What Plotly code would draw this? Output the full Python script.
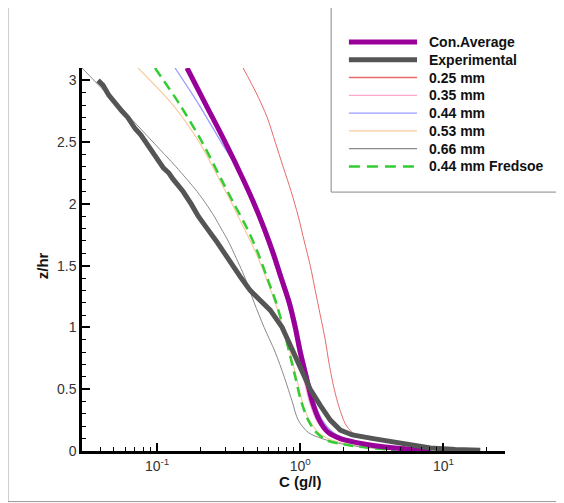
import plotly.graph_objects as go

# ---- data (C in g/l, z/hr) ----
exp_C = [0.0387, 0.042, 0.046, 0.0517, 0.057, 0.0625, 0.0702, 0.077, 0.087, 0.0953, 0.104, 0.111, 0.121,
         0.1294, 0.152, 0.163, 0.173, 0.194, 0.21, 0.224, 0.259, 0.294, 0.340, 0.387, 0.447, 0.53, 0.617,
         0.748, 0.894, 1.033, 1.175, 1.38, 1.621, 1.904, 2.311, 3.238, 4.62, 5.88, 8.11, 12.1, 18.1]
exp_z = [3.00, 2.96, 2.88, 2.80, 2.75, 2.70, 2.61, 2.56, 2.47, 2.40, 2.33, 2.29, 2.25,
         2.20, 2.10, 2.05, 2.00, 1.90, 1.84, 1.80, 1.70, 1.60, 1.50, 1.40, 1.30, 1.22, 1.14,
         1.00, 0.80, 0.65, 0.50, 0.37, 0.25, 0.17, 0.13, 0.10, 0.07, 0.045, 0.025, 0.012, 0.006]

avg_C = [0.162, 0.220, 0.299, 0.399, 0.477, 0.560, 0.647, 0.736, 0.838, 0.923, 1.0, 1.101, 1.213,
         1.358, 1.570, 1.904, 2.425, 3.238, 5.00, 8.11]
avg_z = [3.10, 2.80, 2.50, 2.20, 2.00, 1.80, 1.60, 1.40, 1.20, 1.00, 0.80, 0.60, 0.40,
         0.25, 0.15, 0.10, 0.07, 0.045, 0.02, 0.008]

d025_C = [0.399, 0.492, 0.588, 0.669, 0.760, 0.865, 0.968, 1.066, 1.175, 1.273, 1.380, 1.495, 1.595,
          1.728, 1.873, 2.063, 2.311, 2.714, 3.345, 4.62, 6.37, 9.53, 14.3]
d025_z = [3.10, 2.90, 2.70, 2.50, 2.30, 2.10, 1.90, 1.70, 1.50, 1.30, 1.10, 0.90, 0.70,
          0.50, 0.35, 0.22, 0.15, 0.12, 0.09, 0.06, 0.035, 0.015, 0.005]

d035_C = [0.157, 0.213, 0.2897, 0.387, 0.4617, 0.542, 0.627, 0.713, 0.811, 0.894, 0.968, 1.049, 1.156,
          1.294, 1.495, 1.844, 2.425, 3.187, 5.00, 8.11]
d035_z = [3.10, 2.80, 2.50, 2.20, 2.00, 1.80, 1.60, 1.40, 1.20, 1.00, 0.80, 0.60, 0.40,
          0.25, 0.15, 0.10, 0.06, 0.04, 0.015, 0.004]

d044_C = [0.1336, 0.197, 0.2805, 0.406, 0.492, 0.578, 0.669, 0.760, 0.865, 0.953, 1.033, 1.137, 1.253,
          1.425, 1.701, 2.097, 2.849, 3.625, 5.42, 8.38]
d044_z = [3.10, 2.80, 2.50, 2.20, 2.00, 1.80, 1.60, 1.40, 1.20, 1.00, 0.80, 0.60, 0.40,
          0.25, 0.15, 0.10, 0.06, 0.04, 0.015, 0.005]

d053_C = [0.0737, 0.1294, 0.197, 0.2716, 0.334, 0.406, 0.492, 0.578, 0.669, 0.760, 0.851, 0.938, 1.033,
          1.156, 1.336, 1.570, 2.237, 3.51, 5.88]
d053_z = [3.10, 2.80, 2.50, 2.20, 2.00, 1.80, 1.60, 1.40, 1.20, 1.00, 0.80, 0.60, 0.40,
          0.25, 0.15, 0.10, 0.05, 0.02, 0.005]

d066_C = [0.0299, 0.044, 0.0647, 0.0938, 0.1358, 0.1905, 0.220, 0.2505, 0.2805, 0.314, 0.345, 0.412, 0.477,
          0.560, 0.669, 0.773, 0.879, 0.968, 1.137, 1.425, 1.904, 2.849, 5.00]
d066_z = [3.10, 2.90, 2.70, 2.50, 2.30, 2.10, 2.00, 1.90, 1.80, 1.70, 1.60, 1.40, 1.20,
          1.00, 0.80, 0.60, 0.40, 0.25, 0.15, 0.10, 0.06, 0.03, 0.01]

fred_C = [0.0968, 0.1449, 0.2065, 0.2805, 0.345, 0.426, 0.508, 0.588, 0.679, 0.760, 0.838, 0.923, 1.016,
          1.137, 1.294, 1.545, 2.237, 3.345, 4.62]
fred_z = [3.10, 2.80, 2.50, 2.20, 2.00, 1.80, 1.60, 1.40, 1.20, 1.00, 0.80, 0.60, 0.40,
          0.25, 0.15, 0.085, 0.045, 0.02, 0.008]

x_major = [0.1, 1, 10]
x_major_text = ["10<sup>-1</sup>", "10<sup>0</sup>", "10<sup>1</sup>"]
x_minor = [0.04, 0.05, 0.06, 0.07, 0.08, 0.09, 0.2, 0.3, 0.4, 0.5, 0.6, 0.7, 0.8, 0.9,
           2, 3, 4, 5, 6, 7, 8, 9, 20]

legend_names = ["Con.Average", "Experimental", "0.25 mm", "0.35 mm", "0.44 mm", "0.53 mm",
                "0.66 mm", "0.44 mm Fredsoe"]

x_title = "C (g/l)"
y_title = "z/hr"

# ---- styles ----
styles = {
    "Con.Average": dict(color="#990099", width=5, dash="solid"),
    "Experimental": dict(color="#555555", width=5, dash="solid"),
    "0.25 mm": dict(color="#e86a6a", width=1, dash="solid"),
    "0.35 mm": dict(color="#ffa8cc", width=1, dash="solid"),
    "0.44 mm": dict(color="#9c9cff", width=1.3, dash="solid"),
    "0.53 mm": dict(color="#f8c99c", width=1.1, dash="solid"),
    "0.66 mm": dict(color="#8a8a8a", width=1, dash="solid"),
    "0.44 mm Fredsoe": dict(color="#33cc33", width=2.5, dash="10px,6px"),
}

fig = go.Figure()

def add(C, z, name, shape="spline"):
    st = styles[name]
    fig.add_trace(go.Scatter(x=C, y=z, mode="lines", name=name, showlegend=False,
                             line=dict(color=st["color"], width=st["width"], dash=st["dash"],
                                       shape=shape, smoothing=0.8 if shape == "spline" else None)))

add(d025_C, d025_z, "0.25 mm")
add(d035_C, d035_z, "0.35 mm")
add(d044_C, d044_z, "0.44 mm")
add(d053_C, d053_z, "0.53 mm")
add(d066_C, d066_z, "0.66 mm")
add(fred_C, fred_z, "0.44 mm Fredsoe")
add(avg_C, avg_z, "Con.Average")
add(exp_C, exp_z, "Experimental", shape="linear")

# ---- legend (drawn as layout shapes + text) ----
shapes = [
    dict(type="rect", xref="paper", yref="paper", x0=-0.175, x1=1.132, y0=-0.132, y1=1.1595,
         line=dict(color="#999999", width=1)),
    dict(type="rect", xref="paper", yref="paper", x0=0.589, x1=1.132, y0=0.676, y1=1.1595,
         line=dict(color="#888888", width=1)),
]
annotations = []
for i, name in enumerate(legend_names):
    yp = (450.5 - (42 + 17.75 * i)) / 382.5
    st = styles[name]
    shapes.append(dict(type="line", xref="paper", yref="paper", x0=0.631, x1=0.792, y0=yp, y1=yp,
                       line=dict(color=st["color"], width=max(st["width"], 1.3),
                                 dash="11px,7px" if st["dash"] != "solid" else "solid")))
    annotations.append(dict(xref="paper", yref="paper", x=0.8156, y=yp, xanchor="left", yanchor="middle",
                            text="<b>%s</b>" % name, showarrow=False,
                            font=dict(family="Liberation Sans, Arial, sans-serif", size=14, color="#111111")))

# axis titles
annotations.append(dict(xref="paper", yref="paper", x=(300 - 82) / 423, y=(450.5 - 481) / 382.5,
                        xanchor="center", yanchor="middle", text="<b>%s</b>" % x_title, showarrow=False,
                        font=dict(family="Liberation Sans, Arial, sans-serif", size=15, color="#111111")))
annotations.append(dict(xref="paper", yref="paper", x=(42 - 82) / 423, y=(450.5 - 266) / 382.5,
                        xanchor="center", yanchor="middle", text="<b>%s</b>" % y_title, showarrow=False,
                        textangle=-90,
                        font=dict(family="Liberation Sans, Arial, sans-serif", size=15, color="#111111")))

fig.update_layout(
    width=556, height=495,
    margin=dict(l=74, r=59, t=60, b=52),
    paper_bgcolor="white", plot_bgcolor="white",
    font=dict(family="Liberation Sans, Arial, sans-serif", color="#222222"),
    showlegend=False,
    shapes=shapes,
    annotations=annotations,
)

fig.update_xaxes(type="log", range=[-1.524, 1.43],
                 tickmode="array", tickvals=x_major, ticktext=x_major_text,
                 ticks="inside", ticklen=8, tickwidth=2, tickcolor="black",
                 minor=dict(tickmode="array", tickvals=x_minor, ticks="inside", ticklen=4,
                            tickwidth=1, tickcolor="black", showgrid=False),
                 showline=True, linecolor="black", linewidth=2.5, showgrid=False, zeroline=False,
                 tickfont=dict(size=14, color="#333333"))

fig.update_yaxes(range=[0, 3.1], tickmode="linear", tick0=0, dtick=0.5,
                 ticks="inside", ticklen=8, tickwidth=2, tickcolor="black",
                 minor=dict(dtick=0.1, ticks="inside", ticklen=4, tickwidth=1, tickcolor="black", showgrid=False),
                 showline=True, linecolor="black", linewidth=2.5, showgrid=False, zeroline=False,
                 tickfont=dict(size=14, color="#333333"))

fig.write_html("out.html")
